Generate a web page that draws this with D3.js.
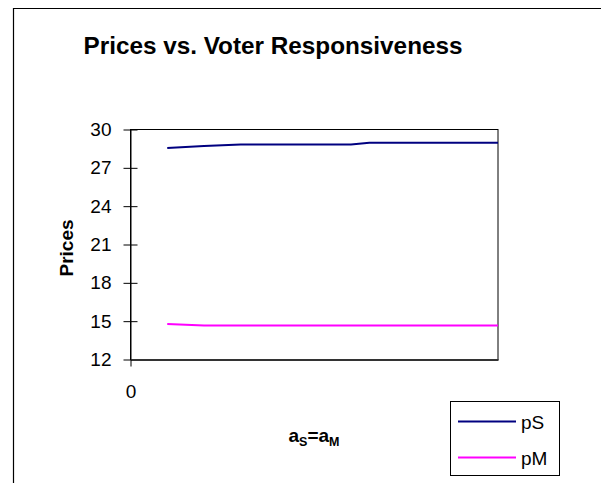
<!DOCTYPE html>
<html>
<head>
<meta charset="utf-8">
<script src="https://cdn.jsdelivr.net/npm/d3@7"></script>
<style>
  html, body { margin: 0; padding: 0; background: #fff; }
  svg { display: block; font-family: Arial, "Liberation Sans", sans-serif; }
</style>
</head>
<body>
<svg id="chart" width="601" height="483"></svg>
<script>
// Responsiveness values (a_S = a_M) on the horizontal axis
const responsiveness = [0.10, 0.15, 0.20, 0.25, 0.30, 0.35, 0.40, 0.45, 0.50, 0.55, 0.60,
                        0.65, 0.70, 0.75, 0.80, 0.85, 0.90, 0.95, 1.00];
// Price of S
const pS = [28.55, 28.63, 28.71, 28.77, 28.83, 28.83, 28.83, 28.83, 28.83, 28.83, 28.83,
            28.97, 28.97, 28.97, 28.97, 28.97, 28.97, 28.97, 28.97];
// Price of M
const pM = [14.78, 14.72, 14.66, 14.66, 14.66, 14.66, 14.66, 14.66, 14.66, 14.66, 14.66,
            14.66, 14.66, 14.66, 14.66, 14.66, 14.66, 14.66, 14.66];
const yTicks = [12, 15, 18, 21, 24, 27, 30];
const xTicks = [0];
const seriesNames = ["pS", "pM"];
const seriesColors = ["#000080", "#ff00ff"];

const svg = d3.select("#chart");

// outer chart border (left and top edges visible)
svg.append("path")
  .attr("d", "M13.5,483 L13.5,8.5 L601,8.5")
  .attr("fill", "none").attr("stroke", "#000").attr("stroke-width", 1.2);

svg.append("text")
  .attr("x", 273).attr("y", 54)
  .attr("text-anchor", "middle")
  .attr("font-weight", "bold").attr("font-size", 24.3)
  .text("Prices vs. Voter Responsiveness");

const plot = { left: 130.5, top: 129.5, right: 498, bottom: 359.5 };

const x = d3.scaleLinear().domain([0, 1]).range([plot.left, plot.right]);
const y = d3.scaleLinear().domain([12, 30]).range([plot.bottom, plot.top]);

// plot frame
svg.append("rect")
  .attr("x", plot.left).attr("y", plot.top)
  .attr("width", plot.right - plot.left).attr("height", plot.bottom - plot.top)
  .attr("fill", "none").attr("stroke", "#000").attr("stroke-width", 1);

// y axis
const yAxis = svg.append("g")
  .attr("transform", `translate(${plot.left},0)`)
  .call(d3.axisLeft(y).tickValues(yTicks).tickSizeInner(7).tickSizeOuter(0)
        .tickPadding(12).tickFormat(d3.format("d")));
yAxis.select(".domain").attr("stroke", "#000");
yAxis.selectAll(".tick line").attr("x1", 7).attr("x2", -7).attr("stroke", "#000");
yAxis.selectAll(".tick text")
  .attr("font-size", 19).attr("fill", "#000")
  .attr("font-family", "Arial, 'Liberation Sans', sans-serif");

// x axis
const xAxis = svg.append("g")
  .attr("transform", `translate(0,${plot.bottom})`)
  .call(d3.axisBottom(x).tickValues(xTicks).tickSizeInner(7).tickSizeOuter(0)
        .tickPadding(18).tickFormat(d3.format("d")));
xAxis.select(".domain").attr("stroke", "#333").attr("stroke-width", 2);
xAxis.selectAll(".tick line").attr("stroke", "#000");
xAxis.selectAll(".tick text")
  .attr("font-size", 19).attr("fill", "#000")
  .attr("font-family", "Arial, 'Liberation Sans', sans-serif");

// axis titles
svg.append("text")
  .attr("transform", "translate(73,248) rotate(-90)")
  .attr("text-anchor", "middle")
  .attr("font-weight", "bold").attr("font-size", 19)
  .text("Prices");

const xt = svg.append("text")
  .attr("x", 314).attr("y", 442)
  .attr("text-anchor", "middle")
  .attr("font-weight", "bold").attr("font-size", 19);
xt.append("tspan").text("a");
xt.append("tspan").attr("font-size", 12.5).attr("dy", 4).text("S");
xt.append("tspan").attr("dy", -4).text("=a");
xt.append("tspan").attr("font-size", 12.5).attr("dy", 4).text("M");

// series lines
const series = [pS, pM];
const line = d3.line().x((d, i) => x(responsiveness[i])).y(d => y(d));
series.forEach((vals, k) => {
  svg.append("path")
    .datum(vals)
    .attr("d", line)
    .attr("fill", "none")
    .attr("stroke", seriesColors[k])
    .attr("stroke-width", 2);
});

// legend
const legend = svg.append("g");
legend.append("rect")
  .attr("x", 450.5).attr("y", 401.5).attr("width", 109).attr("height", 74)
  .attr("fill", "#fff").attr("stroke", "#000").attr("stroke-width", 1);
seriesNames.forEach((name, k) => {
  const ly = 421.5 + k * 36;
  legend.append("line")
    .attr("x1", 458).attr("x2", 516).attr("y1", ly).attr("y2", ly)
    .attr("stroke", seriesColors[k]).attr("stroke-width", 2);
  legend.append("text")
    .attr("x", 521).attr("y", ly + 7)
    .attr("font-size", 19)
    .text(name);
});
</script>
</body>
</html>
